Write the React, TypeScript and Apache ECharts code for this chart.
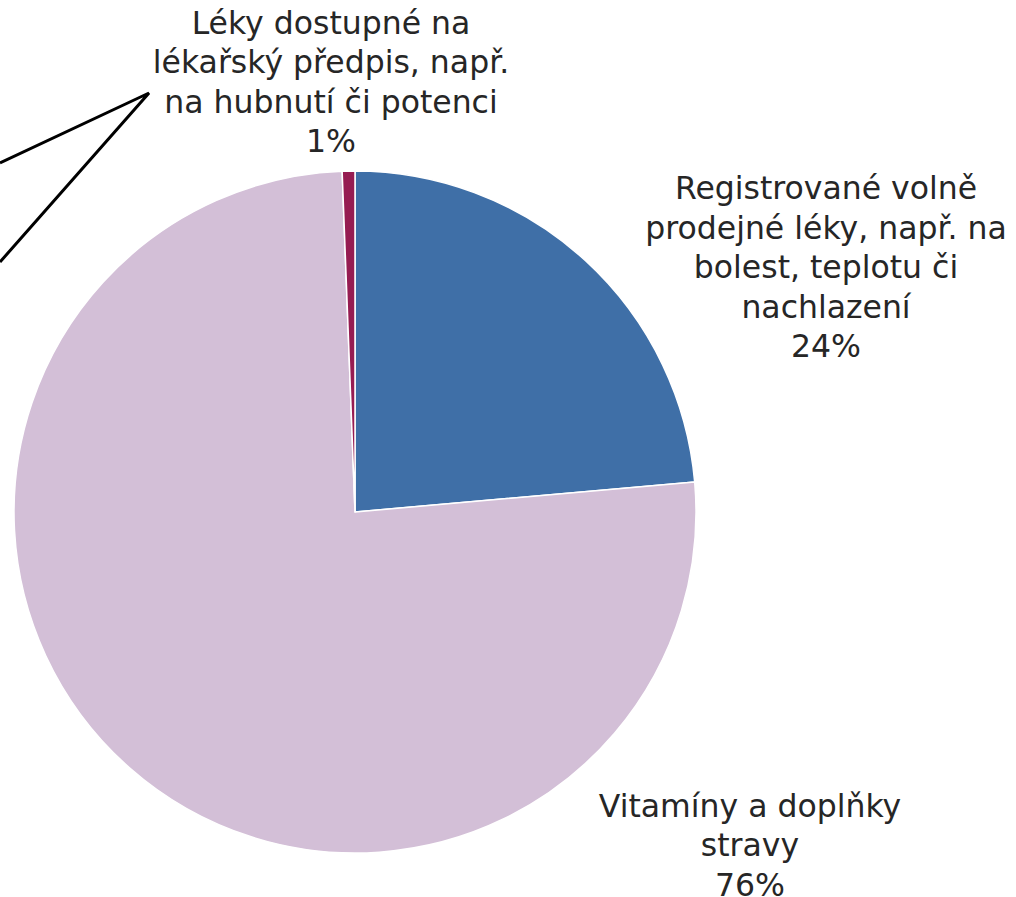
import React, { useEffect, useRef } from "react";
import * as echarts from "echarts";

const categories = [
  "Registrované volně\nprodejné léky, např. na\nbolest, teplotu či\nnachlazení",
  "Vitamíny a doplňky\nstravy",
  "Léky dostupné na\nlékařský předpis, např.\nna hubnutí či potenci",
];
const values = [23.6, 75.8, 0.6];
const colors = ["#3F6FA7", "#D3BFD7", "#961C52"];

const labelPositions = [
  { x: 826, y: 267 },
  { x: 750, y: 845 },
  { x: 331, y: 82 },
];

export default function App() {
  const ref = useRef<HTMLDivElement>(null);
  useEffect(() => {
    if (!ref.current) return;
    const chart = echarts.init(ref.current, null, { renderer: "svg" });
    chart.setOption({
      animation: false,
      backgroundColor: "#ffffff",
      series: [
        {
          type: "pie",
          center: [355, 512],
          radius: [0, 341],
          startAngle: 90,
          clockwise: true,
          data: categories.map((name, i) => ({
            name,
            value: values[i],
            itemStyle: { color: colors[i] },
          })),
          itemStyle: { borderColor: "#ffffff", borderWidth: 1.5 },
          label: {
            show: true,
            position: "outside",
            formatter: (p: any) => `${p.name}\n${Math.round(p.percent)}%`,
            fontFamily: "DejaVu Sans",
            fontSize: 31.5,
            lineHeight: 39.5,
            color: "#262626",
            align: "center",
            overflow: "none",
            width: 420,
          },
          labelLine: { show: false },
          labelLayout: (params: any) => {
            const pos = labelPositions[params.dataIndex];
            return { x: pos.x, y: pos.y, align: "center", verticalAlign: "middle" };
          },
          emphasis: { disabled: true },
        },
      ],
      graphic: [
        {
          type: "polyline",
          shape: { points: [[0, 163], [149, 93], [0, 262]] },
          style: { stroke: "#000000", lineWidth: 3, fill: "none" },
        },
      ],
    });
    return () => chart.dispose();
  }, []);
  return (
    <div
      ref={ref}
      style={{ position: "fixed", left: 0, top: 0, width: 1016, height: 897 }}
    />
  );
}
